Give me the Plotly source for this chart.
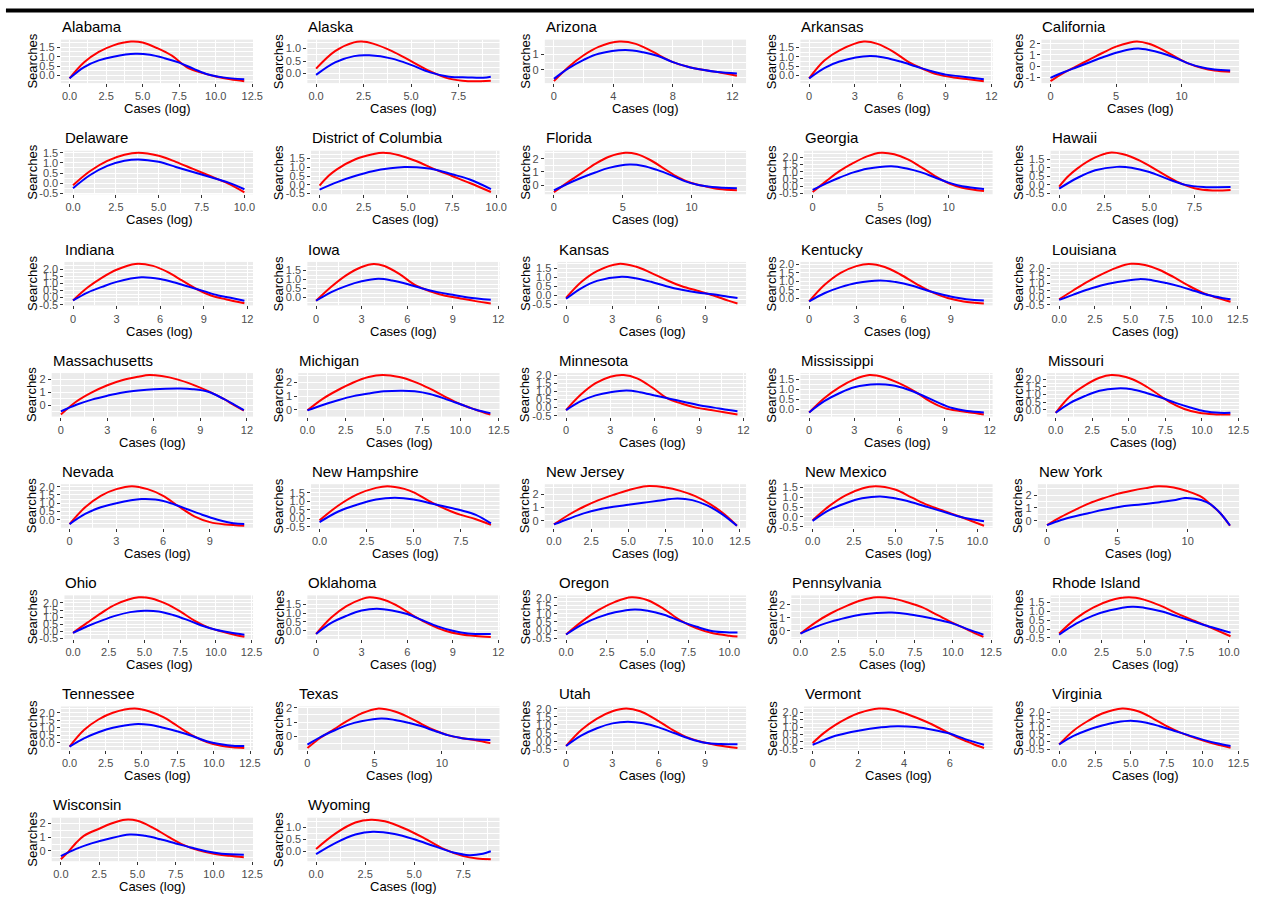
import math
import numpy as np
import plotly.graph_objects as go

W, H = 1264, 901

STATES = ["Alabama", "Alaska", "Arizona", "Arkansas", "California",
          "Delaware", "District of Columbia", "Florida", "Georgia", "Hawaii",
          "Indiana", "Iowa", "Kansas", "Kentucky", "Louisiana",
          "Massachusetts", "Michigan", "Minnesota", "Mississippi", "Missouri",
          "Nevada", "New Hampshire", "New Jersey", "New Mexico", "New York",
          "Ohio", "Oklahoma", "Oregon", "Pennsylvania", "Rhode Island",
          "Tennessee", "Texas", "Utah", "Vermont", "Virginia",
          "Wisconsin", "Wyoming"]

# x tick step per state
X_STEP = [2.5, 2.5, 4, 3, 5,
          2.5, 2.5, 5, 5, 2.5,
          3, 3, 3, 3, 2.5,
          3, 2.5, 3, 3, 2.5,
          3, 2.5, 2.5, 2.5, 5,
          2.5, 3, 2.5, 2.5, 2.5,
          2.5, 5, 3, 2, 2.5,
          2.5, 2.5]

# y tick labels per state
Y_TICKS = [
    [0, 0.5, 1, 1.5], [0, 0.5, 1], [0, 1], [0, 0.5, 1, 1.5], [-1, 0, 1, 2],
    [-0.5, 0, 0.5, 1, 1.5], [-0.5, 0, 0.5, 1, 1.5], [0, 1, 2], [-0.5, 0, 0.5, 1, 1.5, 2], [-0.5, 0, 0.5, 1, 1.5],
    [-0.5, 0, 0.5, 1, 1.5, 2], [0, 0.5, 1, 1.5], [-0.5, 0, 0.5, 1, 1.5], [0, 0.5, 1, 1.5, 2], [-0.5, 0, 0.5, 1, 1.5, 2],
    [0, 1, 2], [0, 1, 2], [-0.5, 0, 0.5, 1, 1.5, 2], [0, 0.5, 1, 1.5], [0, 0.5, 1, 1.5, 2],
    [0, 0.5, 1, 1.5, 2], [-0.5, 0, 0.5, 1, 1.5], [0, 1, 2], [-0.5, 0, 0.5, 1, 1.5], [0, 1, 2],
    [-0.5, 0, 0.5, 1, 1.5, 2], [0, 0.5, 1, 1.5], [-0.5, 0, 0.5, 1, 1.5, 2], [0, 1, 2], [-0.5, 0, 0.5, 1, 1.5],
    [0, 0.5, 1, 1.5, 2], [0, 1, 2], [-0.5, 0, 0.5, 1, 1.5, 2], [-0.5, 0, 0.5, 1, 1.5, 2], [-0.5, 0, 0.5, 1, 1.5, 2],
    [0, 1, 2], [0, 0.5, 1],
]

# red curve (x = cases log, y = searches)
RED = [
    [(0, -0.15), (1, 0.7), (2, 1.25), (3, 1.6), (4.2, 1.8), (5, 1.75), (6, 1.45), (7, 1.05), (8, 0.45), (9, 0.15), (10, -0.05), (11, -0.2), (11.95, -0.3)],  # Alabama
    [(0, 0.2), (1, 0.9), (2, 1.25), (2.4, 1.28), (3, 1.2), (4, 0.9), (5, 0.5), (6, 0.1), (7, -0.2), (8, -0.3), (9.2, -0.28)],  # Alaska
    [(0, -0.75), (1, 0.2), (2, 0.95), (3, 1.5), (4.4, 1.85), (5.5, 1.7), (6.5, 1.25), (8, 0.5), (9, 0.2), (10, 0.0), (11, -0.15), (12.3, -0.4)],  # Arizona
    [(0, -0.15), (1, 0.8), (2, 1.35), (3.6, 1.82), (4.5, 1.7), (5.5, 1.3), (6.5, 0.75), (7.5, 0.35), (8.5, 0.05), (9.5, -0.1), (10.5, -0.2), (11.5, -0.3)],  # Arkansas
    [(0, -1.35), (1, -0.6), (2, 0.0), (3, 0.6), (4, 1.2), (5, 1.75), (6, 2.1), (6.6, 2.2), (7.5, 2.0), (8.5, 1.5), (9.5, 0.85), (10.5, 0.25), (11.5, -0.15), (12.5, -0.4), (13.7, -0.5)],  # California
    [(0, -0.1), (1, 0.6), (2, 1.1), (3, 1.4), (3.8, 1.5), (5, 1.35), (6, 1.05), (7, 0.7), (8, 0.35), (9, 0.0), (10, -0.45)],  # Delaware
    [(0, -0.05), (0.5, 0.5), (1, 0.9), (2, 1.45), (3, 1.75), (3.6, 1.84), (4.5, 1.7), (5.5, 1.35), (6.5, 0.9), (7.5, 0.5), (8.5, 0.1), (9.7, -0.42)],  # DC
    [(0, -0.55), (1, 0.2), (2, 0.9), (3, 1.6), (4, 2.15), (5.2, 2.45), (6, 2.35), (7, 1.9), (8, 1.25), (9, 0.6), (10, 0.15), (11, -0.1), (12, -0.3), (13.3, -0.4)],  # Florida
    [(0, -0.4), (1, 0.35), (2, 1.05), (3, 1.6), (4, 2.05), (5, 2.3), (6, 2.2), (7, 1.85), (8, 1.3), (9, 0.7), (10, 0.2), (11, -0.1), (12.6, -0.33)],  # Georgia
    [(0, -0.1), (0.5, 0.5), (1, 0.95), (2, 1.6), (2.8, 1.88), (3.5, 1.8), (4.5, 1.4), (5.5, 0.8), (6.5, 0.2), (7.5, -0.2), (8.5, -0.33), (9.5, -0.3)],  # Hawaii
    [(0, -0.2), (1, 0.7), (2, 1.4), (3, 1.95), (4.3, 2.36), (5.5, 2.22), (6.5, 1.8), (7.5, 1.2), (8.5, 0.6), (9.5, 0.15), (10.5, -0.12), (11.8, -0.4)],  # Indiana
    [(0, -0.18), (1, 0.6), (2, 1.25), (3, 1.7), (3.8, 1.87), (4.5, 1.75), (5.5, 1.3), (6.5, 0.7), (7.5, 0.35), (8.5, 0.1), (9.5, -0.05), (10.5, -0.2), (11.5, -0.33)],  # Iowa
    [(0, -0.15), (1, 0.75), (2, 1.35), (3.4, 1.75), (4.5, 1.6), (5.5, 1.25), (6.5, 0.85), (7.5, 0.5), (8.5, 0.25), (9.5, 0.0), (10.5, -0.3), (11.1, -0.46)],  # Kansas
    [(0, -0.2), (1, 0.8), (2, 1.5), (3, 1.9), (3.8, 2.03), (4.8, 1.85), (5.8, 1.4), (6.8, 0.85), (7.8, 0.35), (8.8, 0.0), (9.8, -0.2), (11.1, -0.32)],  # Kentucky
    [(0, -0.13), (1, 0.5), (2, 1.1), (3, 1.62), (4, 2.05), (5, 2.33), (6, 2.25), (7, 1.92), (8, 1.42), (9, 0.85), (10, 0.35), (11, 0.0), (12, -0.3)],  # Louisiana
    [(0, -0.7), (1, 0.3), (2, 1.0), (3, 1.55), (4, 1.95), (5, 2.2), (5.7, 2.33), (6.5, 2.25), (7.5, 2.0), (8.5, 1.6), (9.5, 1.1), (10.5, 0.5), (11.2, 0.0), (11.8, -0.4)],  # Massachusetts
    [(0, -0.05), (1, 0.8), (2, 1.45), (3, 2.0), (4, 2.4), (4.9, 2.55), (6, 2.4), (7, 2.05), (8, 1.55), (9, 0.95), (10, 0.4), (11, 0.0), (11.95, -0.36)],  # Michigan
    [(0, -0.15), (1, 0.8), (2, 1.5), (3, 1.9), (3.9, 2.0), (4.8, 1.8), (5.8, 1.25), (6.8, 0.6), (7.8, 0.25), (8.8, 0.0), (9.8, -0.15), (10.8, -0.3), (11.6, -0.42)],  # Minnesota
    [(0, -0.17), (1, 0.55), (2, 1.1), (3, 1.5), (4, 1.72), (5, 1.6), (6, 1.3), (7, 0.9), (8, 0.4), (9, 0.05), (10, -0.1), (11, -0.2), (11.6, -0.28)],  # Mississippi
    [(0, -0.2), (1, 0.9), (2, 1.6), (3, 2.1), (3.8, 2.28), (4.8, 2.15), (5.8, 1.75), (6.8, 1.15), (7.8, 0.5), (8.8, 0.05), (9.8, -0.2), (10.8, -0.3), (11.95, -0.32)],  # Missouri
    [(0, -0.27), (1, 0.75), (2, 1.45), (3, 1.85), (4, 2.03), (5, 1.85), (6, 1.45), (7, 0.8), (8, 0.2), (9, -0.15), (10, -0.3), (11.2, -0.37)],  # Nevada
    [(0, -0.12), (1, 0.75), (2, 1.4), (3, 1.78), (3.6, 1.88), (4.5, 1.72), (5, 1.52), (6, 0.9), (7, 0.4), (7.5, 0.2), (8.3, -0.05), (9.1, -0.38)],  # New Hampshire
    [(0, -0.28), (1, 0.45), (2, 1.05), (3, 1.55), (4, 1.95), (5, 2.3), (6.2, 2.6), (7.5, 2.5), (8.5, 2.25), (9.5, 1.85), (10.5, 1.25), (11.5, 0.45), (12.3, -0.38)],  # New Jersey
    [(0, -0.17), (1, 0.55), (2, 1.1), (3, 1.45), (3.8, 1.57), (5, 1.4), (6, 1.0), (7, 0.6), (8, 0.3), (9, 0.0), (10.4, -0.45)],  # New Mexico
    [(0, -0.35), (1, 0.3), (2, 0.85), (3, 1.35), (4, 1.75), (5, 2.1), (6, 2.35), (7, 2.55), (7.9, 2.7), (9, 2.6), (10, 2.3), (11, 1.85), (11.6, 1.3), (12.3, 0.6), (13.0, -0.4)],  # New York
    [(0, -0.12), (1, 0.6), (2, 1.3), (3, 1.9), (4.6, 2.4), (5.5, 2.32), (6.5, 1.95), (7.5, 1.4), (8.5, 0.75), (9.5, 0.25), (10.5, -0.05), (11.3, -0.25), (12, -0.4)],  # Ohio
    [(0, -0.18), (1, 0.75), (2, 1.4), (3, 1.8), (3.5, 1.9), (4.5, 1.75), (5.5, 1.35), (6.5, 0.8), (7.5, 0.35), (8.5, 0.0), (9.5, -0.2), (10.5, -0.3), (11.5, -0.35)],  # Oklahoma
    [(0, -0.28), (1, 0.55), (2, 1.25), (3, 1.75), (4, 2.03), (5, 1.85), (6, 1.3), (7, 0.6), (8, 0.1), (9, -0.2), (10, -0.35), (10.5, -0.4)],  # Oregon
    [(0, -0.22), (1, 0.65), (2, 1.35), (3, 1.9), (4, 2.35), (5, 2.58), (6, 2.5), (7, 2.2), (8, 1.8), (9, 1.2), (10, 0.6), (11, 0.05), (12, -0.48)],  # Pennsylvania
    [(0, -0.25), (1, 0.6), (2, 1.2), (3, 1.6), (4.1, 1.78), (5, 1.65), (6, 1.3), (7, 0.85), (8, 0.45), (9, 0.05), (10.1, -0.4)],  # Rhode Island
    [(0, -0.25), (1, 0.85), (2, 1.55), (3, 2.0), (4.5, 2.28), (5.5, 2.1), (6.5, 1.7), (7.5, 1.1), (8.5, 0.5), (9.5, 0.05), (10.5, -0.2), (11.3, -0.3), (12.1, -0.35)],  # Tennessee
    [(0, -0.85), (1, -0.1), (2, 0.5), (3, 1.1), (4, 1.6), (5.2, 1.95), (6.5, 1.75), (7.5, 1.35), (8.5, 0.85), (9.5, 0.4), (10.5, 0.05), (11.5, -0.15), (12.5, -0.3), (13.6, -0.5)],  # Texas
    [(0, -0.3), (1, 0.7), (2, 1.4), (3, 1.85), (3.9, 2.02), (4.8, 1.85), (5.8, 1.35), (6.8, 0.75), (7.8, 0.25), (8.8, -0.05), (9.8, -0.25), (11.1, -0.43)],  # Utah
    [(0, -0.1), (0.5, 0.6), (1, 1.15), (1.5, 1.6), (2, 1.95), (2.9, 2.28), (3.5, 2.2), (4.2, 1.85), (5, 1.35), (5.7, 0.8), (6.3, 0.3), (7, -0.15), (7.5, -0.45)],  # Vermont
    [(0, -0.17), (1, 0.75), (2, 1.4), (3, 1.9), (4.4, 2.24), (5.5, 2.05), (6.5, 1.6), (7.5, 1.05), (8.5, 0.6), (9.5, 0.25), (10.5, -0.05), (11.95, -0.4)],  # Virginia
    [(0, -0.6), (0.5, -0.05), (1, 0.6), (1.5, 1.1), (2.5, 1.62), (3.3, 2.0), (4.2, 2.28), (5, 2.2), (6, 1.7), (7, 1.05), (8, 0.45), (9, 0.05), (10, -0.2), (11, -0.35), (11.95, -0.45)],  # Wisconsin
    [(0, 0.1), (1, 0.75), (2, 1.2), (2.8, 1.32), (3.5, 1.25), (4.5, 0.95), (5.5, 0.55), (6.5, 0.1), (7.5, -0.2), (8.2, -0.3), (8.9, -0.33)],  # Wyoming
]

# blue curve
BLUE = [
    [(0, -0.15), (1, 0.45), (2, 0.8), (3, 1.0), (4.5, 1.15), (5.5, 1.1), (6.5, 0.92), (7.5, 0.68), (8.5, 0.35), (9.5, 0.05), (10.5, -0.1), (11.95, -0.2)],  # Alabama
    [(0, -0.05), (1, 0.45), (2, 0.7), (2.8, 0.73), (4, 0.6), (5, 0.35), (6, 0.05), (7, -0.12), (8, -0.15), (8.8, -0.16), (9.2, -0.12)],  # Alaska
    [(0, -0.6), (1, 0.1), (2, 0.65), (3, 1.05), (4.8, 1.3), (6, 1.15), (7, 0.9), (8, 0.5), (9, 0.2), (10, 0.0), (11, -0.15), (12.3, -0.25)],  # Arizona
    [(0, -0.15), (1, 0.4), (2, 0.75), (4, 1.05), (5, 0.95), (6, 0.75), (7, 0.5), (8, 0.25), (9, 0.05), (10, -0.05), (11.5, -0.2)],  # Arkansas
    [(0, -1.05), (1, -0.55), (2, -0.1), (3, 0.35), (4, 0.8), (5, 1.2), (6, 1.5), (6.7, 1.58), (7.5, 1.45), (8.5, 1.15), (9.5, 0.75), (10.5, 0.25), (11.5, -0.1), (12.5, -0.3), (13.7, -0.4)],  # California
    [(0, -0.25), (1, 0.4), (2, 0.85), (3, 1.1), (3.8, 1.17), (5, 1.05), (6, 0.8), (7, 0.55), (8, 0.3), (9, 0.05), (10, -0.3)],  # Delaware
    [(0, -0.28), (1, 0.15), (2, 0.5), (3, 0.78), (4, 0.95), (4.8, 1.02), (5.5, 1.0), (6.5, 0.88), (7.5, 0.6), (8.5, 0.3), (9.7, -0.25)],  # DC
    [(0, -0.4), (1, 0.1), (2, 0.55), (3, 0.95), (4, 1.3), (5.5, 1.55), (6.5, 1.45), (7.5, 1.15), (8.5, 0.75), (9.5, 0.3), (10.5, 0.0), (11.5, -0.15), (13.3, -0.25)],  # Florida
    [(0, -0.25), (1, 0.2), (2, 0.6), (3, 0.95), (4, 1.2), (5.8, 1.38), (7, 1.2), (8, 0.95), (9, 0.6), (10, 0.25), (11, 0.0), (12.6, -0.18)],  # Georgia
    [(0, -0.22), (1, 0.4), (2, 0.85), (3.2, 1.05), (4, 1.0), (5, 0.75), (6, 0.35), (7, 0.0), (8, -0.12), (9.5, -0.13)],  # Hawaii
    [(0, -0.2), (1, 0.35), (2, 0.75), (3, 1.1), (4.7, 1.42), (6, 1.3), (7, 1.05), (8, 0.75), (9, 0.45), (10, 0.15), (11, -0.05), (11.8, -0.22)],  # Indiana
    [(0, -0.18), (1, 0.3), (2, 0.65), (3, 0.9), (4.1, 1.04), (5, 0.95), (6, 0.75), (7, 0.5), (8, 0.3), (9, 0.15), (10, 0.0), (11.5, -0.13)],  # Iowa
    [(0, -0.2), (1, 0.4), (2, 0.8), (3.6, 1.03), (4.5, 0.95), (5.5, 0.75), (6.5, 0.5), (7.5, 0.3), (8.5, 0.15), (9.5, 0.05), (10.5, -0.08), (11.1, -0.15)],  # Kansas
    [(0, -0.2), (1, 0.3), (2, 0.65), (3, 0.9), (4.5, 1.05), (5.5, 0.95), (6.5, 0.75), (7.5, 0.45), (8.5, 0.2), (9.5, 0.0), (10.5, -0.12), (11.1, -0.15)],  # Kentucky
    [(0, -0.17), (1, 0.2), (2, 0.55), (3, 0.85), (4, 1.05), (5.6, 1.27), (6.5, 1.2), (7.5, 1.0), (8.5, 0.75), (9.5, 0.45), (10.5, 0.15), (11.5, -0.05), (12, -0.13)],  # Louisiana
    [(0, -0.45), (1, 0.05), (2, 0.45), (3, 0.75), (4, 1.0), (5, 1.15), (6, 1.25), (7.7, 1.3), (8.5, 1.25), (9.5, 1.05), (10.5, 0.5), (11.2, 0.05), (11.8, -0.35)],  # Massachusetts
    [(0, -0.05), (1, 0.35), (2, 0.7), (3, 1.0), (4, 1.2), (5, 1.35), (6.2, 1.4), (7, 1.35), (8, 1.15), (9, 0.8), (10, 0.4), (11, 0.0), (11.95, -0.25)],  # Michigan
    [(0, -0.15), (1, 0.4), (2, 0.75), (3, 0.95), (4.1, 1.05), (5, 0.95), (6, 0.75), (7, 0.55), (8, 0.35), (9, 0.15), (10, 0.0), (11, -0.15), (11.6, -0.22)],  # Minnesota
    [(0, -0.17), (1, 0.4), (2, 0.8), (3, 1.1), (4.5, 1.25), (5.5, 1.2), (6.5, 1.0), (7.5, 0.7), (8.5, 0.35), (9.5, 0.05), (10.5, -0.1), (11.6, -0.17)],  # Mississippi
    [(0, -0.2), (1, 0.45), (2, 0.9), (3, 1.25), (4.2, 1.4), (5.2, 1.35), (6.2, 1.1), (7.2, 0.8), (8.2, 0.45), (9.2, 0.15), (10.2, -0.1), (11.2, -0.2), (11.95, -0.2)],  # Missouri
    [(0, -0.27), (1, 0.35), (2, 0.75), (3, 1.0), (4.6, 1.25), (5.5, 1.22), (6.5, 1.0), (7.5, 0.65), (8.5, 0.3), (9.5, 0.0), (10.5, -0.22), (11.2, -0.27)],  # Nevada
    [(0, -0.22), (1, 0.4), (2, 0.8), (3, 1.1), (4, 1.2), (5, 1.1), (6, 0.85), (7, 0.6), (7.5, 0.47), (8.3, 0.2), (9.1, -0.3)],  # New Hampshire
    [(0, -0.28), (1, 0.15), (2, 0.55), (3, 0.85), (4, 1.05), (5, 1.2), (6, 1.35), (7, 1.5), (8.3, 1.67), (9.3, 1.55), (10.3, 1.15), (11.3, 0.5), (12.3, -0.38)],  # New Jersey
    [(0, -0.2), (1, 0.35), (2, 0.7), (3, 0.95), (4.1, 1.05), (5, 0.95), (6, 0.75), (7, 0.5), (8, 0.25), (9, 0.0), (10.4, -0.22)],  # New Mexico
    [(0, -0.35), (1, 0.05), (2, 0.35), (3, 0.6), (4, 0.85), (5, 1.05), (6, 1.2), (7, 1.3), (8, 1.45), (9, 1.6), (9.8, 1.78), (10.5, 1.72), (11, 1.6), (11.6, 1.3), (12.3, 0.6), (13.0, -0.38)],  # New York
    [(0, -0.12), (1, 0.35), (2, 0.75), (3, 1.1), (4, 1.35), (5, 1.45), (6, 1.4), (7, 1.15), (8, 0.8), (9, 0.4), (10, 0.1), (11, -0.1), (12, -0.25)],  # Ohio
    [(0, -0.18), (1, 0.45), (2, 0.85), (3, 1.15), (4, 1.25), (5, 1.15), (6, 0.95), (7, 0.6), (8, 0.25), (9, 0.0), (10, -0.15), (11.5, -0.18)],  # Oklahoma
    [(0, -0.28), (1, 0.35), (2, 0.8), (3, 1.1), (4.2, 1.28), (5, 1.2), (6, 0.95), (7, 0.55), (8, 0.2), (9, -0.08), (10, -0.15), (10.5, -0.16)],  # Oregon
    [(0, -0.22), (1, 0.3), (2, 0.7), (3, 1.0), (4, 1.25), (5, 1.37), (6, 1.4), (7, 1.3), (8, 1.1), (9, 0.85), (10, 0.55), (11, 0.1), (12, -0.3)],  # Pennsylvania
    [(0, -0.32), (1, 0.3), (2, 0.75), (3, 1.05), (4.3, 1.25), (5, 1.2), (6, 1.0), (7, 0.7), (8, 0.4), (9, 0.1), (10.1, -0.2)],  # Rhode Island
    [(0, -0.25), (1, 0.3), (2, 0.7), (3, 1.0), (4.5, 1.24), (5.5, 1.2), (6.5, 1.0), (7.5, 0.75), (8.5, 0.45), (9.5, 0.1), (10.5, -0.1), (11.3, -0.2), (12.1, -0.22)],  # Tennessee
    [(0, -0.6), (1, -0.05), (2, 0.4), (3, 0.8), (4, 1.05), (5.5, 1.25), (6.5, 1.15), (7.5, 0.95), (8.5, 0.7), (9.5, 0.35), (10.5, 0.05), (11.5, -0.15), (12.5, -0.25), (13.6, -0.27)],  # Texas
    [(0, -0.3), (1, 0.35), (2, 0.8), (3, 1.1), (4, 1.2), (5, 1.1), (6, 0.85), (7, 0.5), (8, 0.15), (9, -0.1), (10, -0.18), (11.1, -0.2)],  # Utah
    [(0, -0.22), (0.5, 0.1), (1, 0.4), (2, 0.75), (3, 0.98), (3.7, 1.06), (4.5, 1.0), (5.3, 0.8), (6, 0.55), (6.7, 0.15), (7.5, -0.22)],  # Vermont
    [(0, -0.17), (1, 0.4), (2, 0.8), (3, 1.1), (4, 1.32), (5, 1.42), (6, 1.3), (7, 1.05), (8, 0.75), (9, 0.45), (10, 0.15), (11, -0.1), (11.95, -0.28)],  # Virginia
    [(0, -0.38), (0.5, -0.1), (1, 0.15), (2, 0.55), (3, 0.85), (4.5, 1.2), (5.5, 1.1), (6.5, 0.85), (7.5, 0.55), (8.5, 0.25), (9.5, -0.02), (10.5, -0.2), (11.95, -0.27)],  # Wisconsin
    [(0, -0.12), (1, 0.35), (2, 0.7), (2.9, 0.82), (4, 0.72), (5, 0.5), (6, 0.22), (7, -0.05), (7.8, -0.16), (8.5, -0.1), (8.9, 0.0)],  # Wyoming
]

FONT = "Liberation Sans, Arial, sans-serif"
TICK_COLOR = "#4D4D4D"


def pxx(x):
    return x / W


def pyy(y):
    return 1 - y / H


def fmt(v, dec):
    s = f"{v:.1f}" if dec else f"{int(round(v))}"
    if s in ("-0.0", "-0"):
        s = s[1:]
    return s


def text_w(s):
    return sum({".": 3.06, "-": 3.66}.get(ch, 6.12) for ch in s)


def minor_vals(lo, hi, step):
    out = []
    k = math.floor(lo / step) - 1
    while (k + 0.5) * step < hi:
        m = (k + 0.5) * step
        if m > lo:
            out.append(m)
        k += 1
    return out


fig = go.Figure()
layout = {}
annotations = []

for i, name in enumerate(STATES):
    r, c = divmod(i, 5)
    sfx = "" if i == 0 else str(i + 1)
    rx, ry = zip(*RED[i])
    bx, by = zip(*BLUE[i])

    # x scale (ggplot-like 5% expansion)
    xmax = max(max(rx), max(bx))
    xlo, xhi = -0.05 * xmax, 1.05 * xmax
    xs = X_STEP[i]
    xdec = abs(xs - round(xs)) > 1e-9
    xt = [v for v in np.arange(0, xhi + 1e-9, xs) if v <= xhi]
    xtt = [fmt(v, xdec) for v in xt]

    # y scale
    yt = Y_TICKS[i]
    ys = yt[1] - yt[0]
    ydec = abs(ys - round(ys)) > 1e-9
    ymin = min(min(ry), min(by))
    ymax = max(max(ry), max(by))
    span = ymax - ymin
    ylo, yhi = ymin - 0.05 * span, ymax + 0.05 * span
    ylo = min(ylo, yt[0] - 0.1 * ys)
    yhi = max(yhi, yt[-1] + 0.1 * ys)
    ytt = [fmt(v, ydec) for v in yt]

    # geometry (pixels)
    col_right = 255 + 248.5 * c
    cell_left = col_right - 248.5
    lab_w = max(text_w(s) for s in ytt)
    left = cell_left + 39.5 + lab_w
    right = col_right
    ty = 21 + 112.4 * r
    top, bottom = ty + 14, ty + 58

    fig.add_trace(go.Scatter(x=rx, y=ry, xaxis="x" + sfx, yaxis="y" + sfx, mode="lines",
                             line=dict(color="#FF0000", width=2, shape="spline"),
                             showlegend=False, hoverinfo="skip"))
    fig.add_trace(go.Scatter(x=bx, y=by, xaxis="x" + sfx, yaxis="y" + sfx, mode="lines",
                             line=dict(color="#0000FF", width=2, shape="spline"),
                             showlegend=False, hoverinfo="skip"))

    common = dict(showgrid=True, gridcolor="white", gridwidth=1.1, zeroline=False,
                  showline=False, ticks="outside", ticklen=3, tickwidth=1,
                  tickcolor="#333333", tickfont=dict(family=FONT, size=11, color=TICK_COLOR),
                  fixedrange=True, tickmode="array")
    layout["xaxis" + sfx] = dict(domain=[pxx(left), pxx(right)], anchor="y" + sfx,
                                 range=[xlo, xhi], tickvals=xt, ticktext=xtt,
                                 minor=dict(tickmode="array", tickvals=minor_vals(xlo, xhi, xs),
                                            showgrid=True, gridcolor="white", gridwidth=0.5, ticks=""),
                                 **common)
    layout["yaxis" + sfx] = dict(domain=[pyy(bottom), pyy(top)], anchor="x" + sfx,
                                 range=[ylo, yhi], tickvals=yt, ticktext=ytt,
                                 minor=dict(tickmode="array", tickvals=minor_vals(ylo, yhi, ys),
                                            showgrid=True, gridcolor="white", gridwidth=0.5, ticks=""),
                                 **common)

    annotations.append(dict(text=name, x=pxx(left - 1), y=pyy(ty + 1), xref="paper", yref="paper",
                            xanchor="left", yanchor="middle", showarrow=False,
                            font=dict(family=FONT, size=15, color="black")))
    annotations.append(dict(text="Cases (log)", x=pxx((left + right) / 2), y=pyy(ty + 84),
                            xref="paper", yref="paper", xanchor="center", yanchor="middle",
                            showarrow=False, font=dict(family=FONT, size=13, color="black")))
    annotations.append(dict(text="Searches", x=pxx(cell_left + 26), y=pyy((top + bottom) / 2),
                            xref="paper", yref="paper", xanchor="center", yanchor="middle",
                            textangle=-90, showarrow=False,
                            font=dict(family=FONT, size=13, color="black")))

fig.update_layout(**layout)
fig.update_layout(
    width=W, height=H, autosize=False,
    margin=dict(l=0, r=0, t=0, b=0, pad=0),
    paper_bgcolor="white", plot_bgcolor="#EBEBEB",
    font=dict(family=FONT, size=11, color="black"),
    showlegend=False,
    annotations=annotations,
    shapes=[dict(type="rect", xref="paper", yref="paper", x0=pxx(6), x1=1.0,
                 y0=pyy(7.5), y1=pyy(3.5), fillcolor="black", line=dict(width=0), layer="above")],
)

POST = (
    "document.documentElement.style.margin='0px';"
    "document.documentElement.style.padding='0px';"
    "document.documentElement.style.overflow='hidden';"
    "document.body.style.margin='0px';"
    "document.body.style.padding='0px';"
    "document.body.style.overflow='hidden';"
    "var gd=document.getElementById('{plot_id}');"
    "if(gd){gd.style.position='absolute';gd.style.left='0px';gd.style.top='0px';}"
)

fig.write_html("out.html", config={"displayModeBar": False}, post_script=POST)
